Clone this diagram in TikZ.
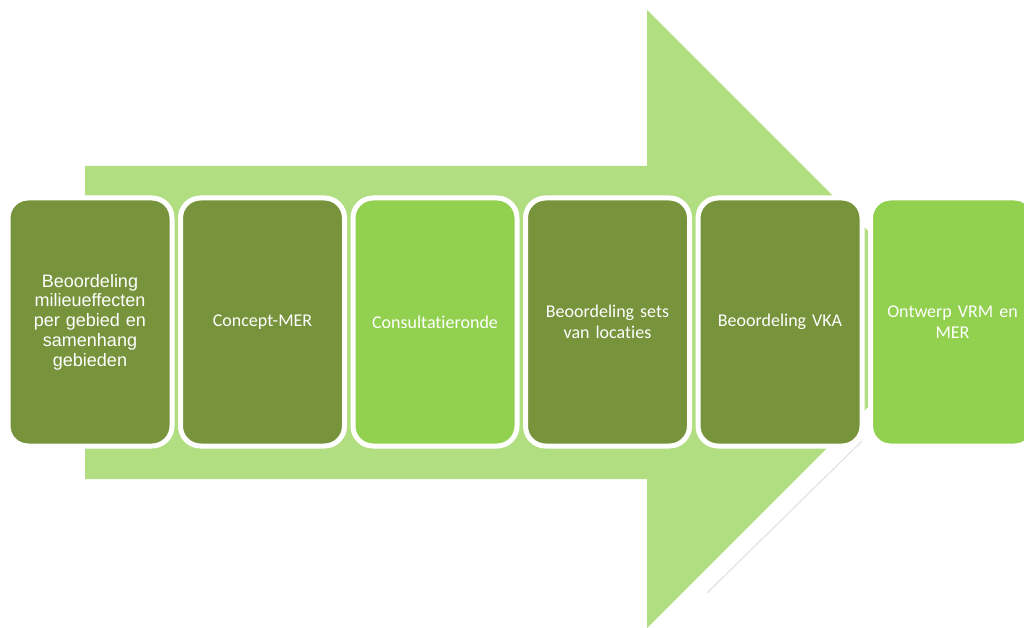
\documentclass[tikz,border=0pt]{standalone}
\usepackage{fontspec}
\setmainfont{Carlito}[Ligatures=NoCommon]
\newfontfamily\arialfont{Liberation Sans}
\usetikzlibrary{positioning}

\definecolor{arrowgreen}{RGB}{178,222,130}
\definecolor{darkgreen}{RGB}{119,147,60}
\definecolor{lightgreen}{RGB}{146,208,80}

\tikzset{
  stage/.style={draw=white, line width=5pt, rounded corners=20pt,
    minimum width=164pt, minimum height=248pt, inner sep=0pt,
    text width=150pt, align=center, text=white,
    font=\fontsize{18}{21.5}\selectfont},
  darkstage/.style={stage, fill=darkgreen},
  lightstage/.style={stage, fill=lightgreen}
}

\begin{document}
\begin{tikzpicture}[x=1pt,y=-1pt]
\useasboundingbox (0,0) rectangle (1024,628);
\clip (0,0) rectangle (1024,628);
%draw big arrow
\fill[arrowgreen] (85,166) -- (647,166) -- (647,10) -- (956,319)
   -- (647,628) -- (647,479) -- (85,479) -- cycle;
\draw[gray!22, line width=1.2pt] (707,593) -- (862,441);
%draw stages
\node[darkstage, font=\arialfont\fontsize{18}{19.7}\selectfont] (gebied) at (90,322)
   {Beoordeling\\milieueffecten\\per gebied en\\samenhang\\gebieden};
\node[darkstage] (concept) at (262.5,322) {Concept-MER};
\node[lightstage] (consult) at (435,322) {Consultatieronde};
\node[darkstage] (sets) at (607.5,322) {Beoordeling sets\\van locaties};
\node[darkstage] (vka) at (780,322) {Beoordeling VKA};
\node[lightstage] (ontwerp) at (952.5,322) {Ontwerp VRM en\\MER};
\end{tikzpicture}
\end{document}
